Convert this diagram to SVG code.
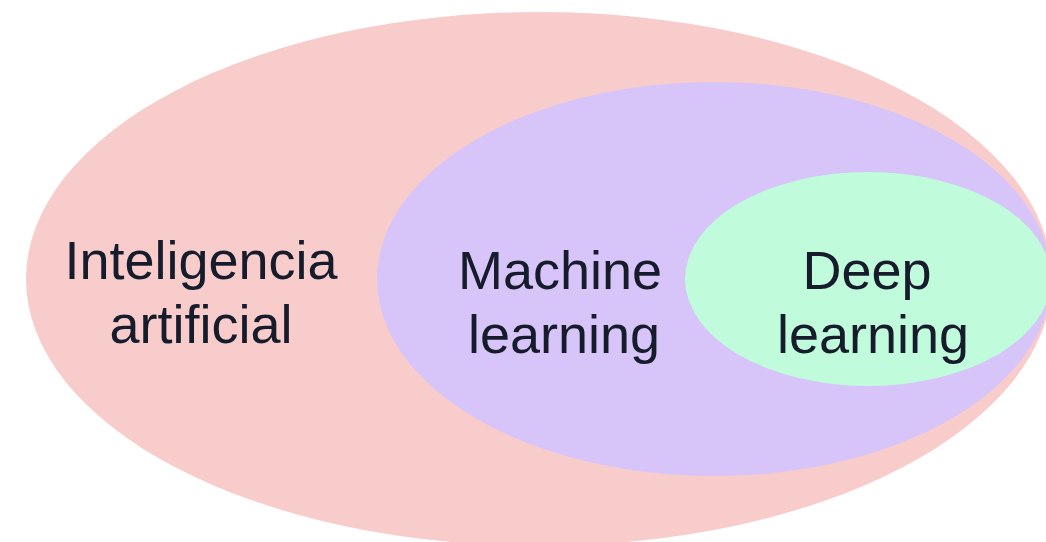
<svg xmlns="http://www.w3.org/2000/svg" width="1046" height="542" viewBox="0 0 1046 542">
<style>
text{font-family:"Liberation Sans",Arial,sans-serif;font-size:54px;fill:#161c2c;text-anchor:middle}
</style>
<rect width="1046" height="542" fill="#ffffff"/>
<g id="ai">
<ellipse cx="539" cy="279" rx="513" ry="267" fill="#f9cccc"/>
<text x="201" y="279">Inteligencia</text>
<text x="201" y="343">artificial</text>
</g>
<g id="ml">
<ellipse cx="714" cy="279" rx="337" ry="197" fill="#d7c4f8"/>
<text x="560" y="289">Machine</text>
<text x="564" y="353">learning</text>
</g>
<g id="dl">
<ellipse cx="868" cy="279" rx="183" ry="107" fill="#c0fcdc"/>
<text x="867" y="289">Deep</text>
<text x="873" y="353">learning</text>
</g>
<g id="connectors"/>
</svg>
